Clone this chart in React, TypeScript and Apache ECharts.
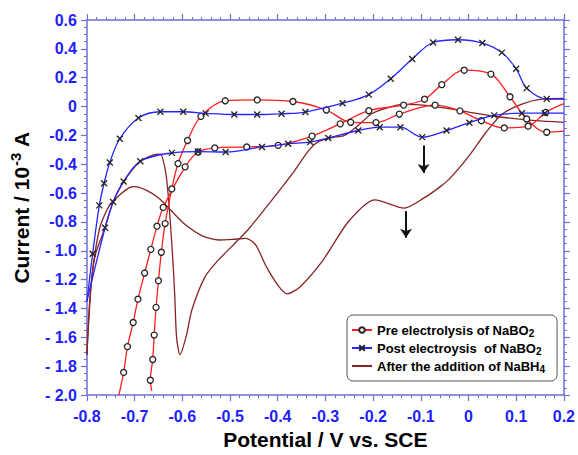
import React, { useEffect, useRef } from "react";
import * as echarts from "echarts";

// ---- data (potential V vs SCE, current 10^-3 A) ----
const preRightRise: number[][] = [
  [-0.664, -1.97], [-0.667, -1.897], [-0.662, -1.753], [-0.659, -1.584], [-0.655, -1.392],
  [-0.65, -1.207], [-0.644, -1.01], [-0.636, -0.811], [-0.622, -0.571], [-0.609, -0.395],
  [-0.589, -0.235], [-0.561, -0.068], [-0.51, 0.04], [-0.443, 0.046], [-0.368, 0.035],
  [-0.298, -0.024], [-0.247, -0.109], [-0.194, -0.111], [-0.145, -0.052], [-0.07, 0.01],
  [-0.018, -0.03], [0.027, -0.098], [0.075, -0.148], [0.125, -0.136], [0.162, -0.04], [0.2, 0.02],
];
const preLeftRise: number[][] = [
  [-0.733, -2.0], [-0.723, -1.843], [-0.715, -1.664], [-0.703, -1.497], [-0.693, -1.335],
  [-0.679, -1.154], [-0.666, -0.99], [-0.653, -0.829], [-0.64, -0.699], [-0.594, -0.418],
  [-0.567, -0.315], [-0.532, -0.287], [-0.465, -0.28], [-0.399, -0.269], [-0.328, -0.205],
  [-0.269, -0.12], [-0.209, -0.029], [-0.136, 0.01], [-0.092, 0.051], [-0.056, 0.152],
  [-0.009, 0.252], [0.047, 0.225], [0.087, 0.068], [0.122, -0.086], [0.164, -0.178], [0.2, -0.17],
];
const postUpper: number[][] = [
  [-0.8, -1.35], [-0.788, -1.02], [-0.774, -0.685], [-0.764, -0.532], [-0.752, -0.388],
  [-0.731, -0.223], [-0.692, -0.079], [-0.646, -0.036], [-0.598, -0.036], [-0.551, -0.047],
  [-0.491, -0.055], [-0.443, -0.055], [-0.392, -0.05], [-0.342, -0.038], [-0.264, 0.023],
  [-0.209, 0.083], [-0.163, 0.193], [-0.118, 0.33], [-0.074, 0.444], [-0.022, 0.463],
  [0.029, 0.44], [0.07, 0.374], [0.1, 0.262], [0.122, 0.128], [0.164, 0.053], [0.2, 0.051],
];
const postLower: number[][] = [
  [-0.8, -1.35], [-0.762, -0.84], [-0.745, -0.662], [-0.723, -0.52], [-0.688, -0.379],
  [-0.622, -0.321], [-0.567, -0.312], [-0.509, -0.315], [-0.433, -0.28], [-0.378, -0.258],
  [-0.332, -0.246], [-0.294, -0.218], [-0.231, -0.166], [-0.186, -0.143], [-0.143, -0.143],
  [-0.097, -0.212], [-0.046, -0.166], [0.002, -0.112], [0.054, -0.061], [0.112, -0.046],
  [0.16, -0.046], [0.2, -0.045],
];
const afterSweep: number[][] = [
  [0.2, -0.109], [0.14, -0.098], [0.071, -0.074], [0.003, -0.04], [-0.025, -0.022],
  [-0.094, 0.01], [-0.135, 0.015], [-0.162, 0.0], [-0.203, -0.05], [-0.231, -0.13],
  [-0.26, -0.2], [-0.285, -0.215], [-0.313, -0.24], [-0.334, -0.3], [-0.368, -0.46],
  [-0.409, -0.635], [-0.46, -0.845], [-0.485, -0.932], [-0.526, -1.07], [-0.553, -1.184],
  [-0.58, -1.41], [-0.592, -1.595], [-0.605, -1.72], [-0.612, -1.6], [-0.616, -1.3],
  [-0.621, -1.0], [-0.629, -0.635], [-0.635, -0.452], [-0.646, -0.33], [-0.66, -0.335],
  [-0.688, -0.379], [-0.723, -0.52], [-0.745, -0.662], [-0.762, -0.84], [-0.783, -1.035],
  [-0.793, -1.3], [-0.8, -1.72],
];
const afterReturn: number[][] = [
  [-0.8, -1.72], [-0.79, -1.2], [-0.773, -0.84], [-0.752, -0.68], [-0.731, -0.612],
  [-0.711, -0.562], [-0.7, -0.555], [-0.677, -0.578], [-0.649, -0.635], [-0.622, -0.726],
  [-0.594, -0.818], [-0.557, -0.898], [-0.523, -0.925], [-0.495, -0.921], [-0.467, -0.914],
  [-0.447, -0.955], [-0.423, -1.115], [-0.399, -1.241], [-0.38, -1.298], [-0.354, -1.252],
  [-0.306, -1.069], [-0.251, -0.795], [-0.196, -0.647], [-0.135, -0.704], [-0.094, -0.635],
  [-0.059, -0.555], [-0.039, -0.498], [0.002, -0.338], [0.037, -0.178], [0.071, -0.052],
  [0.112, 0.017], [0.153, 0.051], [0.2, 0.056],
];
// arrows: [x, yStart, yEnd]
const arrows: number[][] = [
  [-0.094, -0.27, -0.46],
  [-0.131, -0.726, -0.91],
];
const seriesNames = ["pre", "post", "after"];
const legendLabels: Record<string, string> = {
  pre: "{n|Pre electrolysis of NaBO}{sub|2}",
  post: "{n|Post electroysis  of NaBO}{sub|2}",
  after: "{n|After the addition of NaBH}{sub|4}",
};

const FONT = "Arial, 'Liberation Sans', sans-serif";
const AXIS_COLOR = "#6e6ed6";
const LABEL_COLOR = "#1e1eff";
const RED = "#ff1e1e";
const BLUE = "#2424ff";
const DARK = "#862424";
const CROSS = "path://M0,0L10,10M10,0L0,10";

const withEnds = (arr: number[][]) =>
  arr.map((p, i) => (i === 0 || i === arr.length - 1 ? { value: p, symbol: "none" } : { value: p }));

const fmt = (v: number) => {
  const r = Math.round(v * 10) / 10;
  if (Math.abs(r) < 1e-9) return "0";
  if (r <= -1) return "- " + Math.abs(r).toFixed(1);
  return r.toFixed(1);
};

export default function App() {
  const ref = useRef<HTMLDivElement>(null);
  useEffect(() => {
    if (!ref.current) return;
    const chart = echarts.init(ref.current, undefined, { renderer: "svg" });
    const xBase = {
      type: "value" as const,
      min: -0.8,
      max: 0.2,
      interval: 0.1,
      splitLine: { show: false },
      axisLine: { show: true, onZero: false, lineStyle: { color: AXIS_COLOR, width: 1.5 } },
      axisTick: { show: true, inside: false, length: 6, lineStyle: { color: AXIS_COLOR, width: 1.2 } },
      minorTick: { show: true, splitNumber: 5, length: 3, lineStyle: { color: AXIS_COLOR, width: 1 } },
    };
    const yBase = {
      type: "value" as const,
      min: -2.0,
      max: 0.6,
      interval: 0.2,
      splitLine: { show: false },
      axisLine: { show: true, onZero: false, lineStyle: { color: AXIS_COLOR, width: 1.5 } },
      axisTick: { show: true, inside: false, length: 6, lineStyle: { color: AXIS_COLOR, width: 1.2 } },
      minorTick: { show: true, splitNumber: 4, length: 3, lineStyle: { color: AXIS_COLOR, width: 1 } },
    };
    const redStyle = {
      type: "line" as const,
      name: "pre",
      smooth: 0.35,
      symbol: "circle",
      symbolSize: 6,
      showAllSymbol: true,
      lineStyle: { color: RED, width: 1.3 },
      itemStyle: { color: "#ffffff", borderColor: "#222", borderWidth: 1.3 },
      z: 3,
    };
    const blueStyle = {
      type: "line" as const,
      name: "post",
      smooth: 0.35,
      symbol: CROSS,
      symbolSize: 6,
      showAllSymbol: true,
      lineStyle: { color: BLUE, width: 1.3 },
      itemStyle: { color: "rgba(0,0,0,0)", borderColor: "#222", borderWidth: 1.3 },
      z: 4,
    };
    const darkStyle = {
      type: "line" as const,
      name: "after",
      smooth: 0.25,
      symbol: "none",
      lineStyle: { color: DARK, width: 1.3 },
      itemStyle: { color: DARK },
      z: 2,
    };
    chart.setOption({
      animation: false,
      backgroundColor: "#ffffff",
      grid: { left: 80, right: 12, top: 20, bottom: 56, containLabel: false },
      xAxis: [
        {
          ...xBase,
          position: "bottom",
          name: "{t|Potential / V vs. SCE}",
          nameLocation: "middle",
          nameGap: 33,
          nameTextStyle: { rich: { t: { fontFamily: FONT, fontWeight: "bold", fontSize: 21, color: "#000" } } },
          axisLabel: { show: true, margin: 13, color: LABEL_COLOR, fontFamily: FONT, fontWeight: "bold", fontSize: 16, formatter: fmt },
        },
        { ...xBase, position: "top", axisLabel: { show: false } },
      ],
      yAxis: [
        {
          ...yBase,
          position: "left",
          name: "{t|Current / 10}{sup|-3}{t| A}",
          nameLocation: "middle",
          nameRotate: 90,
          nameGap: 47,
          nameTextStyle: {
            rich: {
              t: { fontFamily: FONT, fontWeight: "bold", fontSize: 21, color: "#000", lineHeight: 26 },
              sup: { fontFamily: FONT, fontWeight: "bold", fontSize: 15, color: "#000", lineHeight: 15, padding: [0, 0, 11, 1] },
            },
          },
          axisLabel: { show: true, margin: 10, color: LABEL_COLOR, fontFamily: FONT, fontWeight: "bold", fontSize: 16, formatter: fmt },
        },
        { ...yBase, position: "right", axisLabel: { show: false } },
      ],
      legend: {
        data: [
          { name: "pre" },
          { name: "post" },
          { name: "after", itemStyle: { color: "rgba(0,0,0,0)", borderWidth: 0, borderColor: "rgba(0,0,0,0)" } },
        ],
        orient: "vertical",
        left: 347,
        top: 315,
        width: 207,
        padding: [7, 12, 7, 4],
        itemGap: 2,
        itemWidth: 20,
        itemHeight: 7,
        backgroundColor: "#ffffff",
        borderColor: "#555",
        borderWidth: 1,
        borderRadius: 6,
        formatter: (n: string) => legendLabels[n],
        textStyle: {
          color: "#000",
          rich: {
            n: { fontFamily: FONT, fontWeight: "bold", fontSize: 13, color: "#000", lineHeight: 15 },
            sub: { fontFamily: FONT, fontWeight: "bold", fontSize: 10, color: "#000", lineHeight: 10, padding: [6, 0, 0, 0] },
          },
        },
      },
      series: [
        {
          ...darkStyle,
          data: withEnds(afterSweep),
          markLine: {
            silent: true,
            symbol: ["none", "arrow"],
            symbolSize: 9,
            label: { show: false },
            lineStyle: { color: "#111", width: 2, type: "solid" },
            data: arrows.map((a) => [{ coord: [a[0], a[1]] }, { coord: [a[0], a[2]] }]),
          },
        },
        { ...darkStyle, data: withEnds(afterReturn) },
        { ...redStyle, data: withEnds(preRightRise) },
        { ...redStyle, data: withEnds(preLeftRise) },
        { ...blueStyle, data: withEnds(postUpper) },
        { ...blueStyle, data: withEnds(postLower) },
      ],
    });
    return () => chart.dispose();
  }, []);
  return (
    <div
      ref={ref}
      style={{ position: "fixed", left: 0, top: 0, width: 578, height: 455, background: "#fff" }}
    />
  );
}
